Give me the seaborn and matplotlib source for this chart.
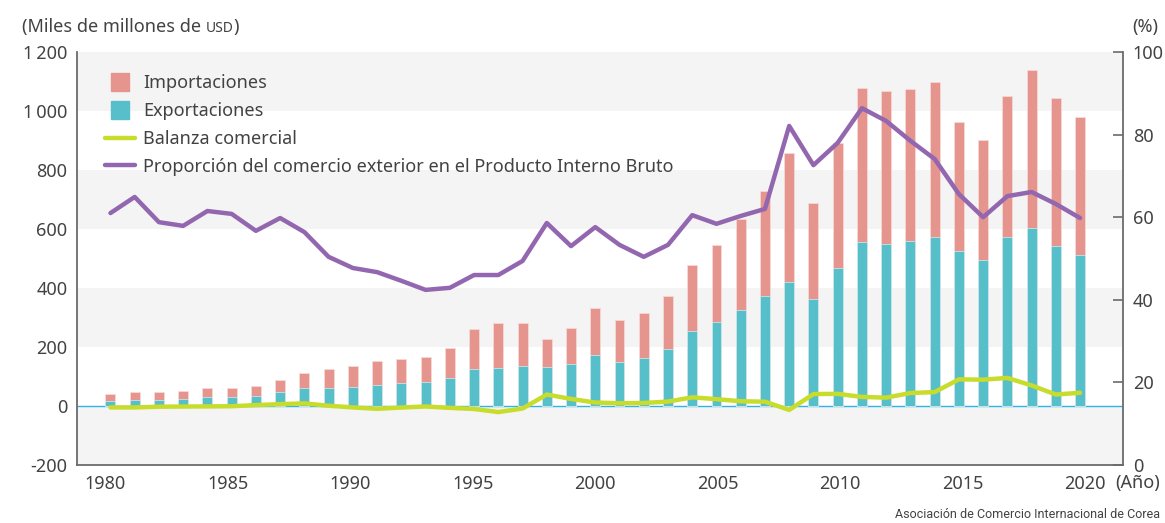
import numpy as np
import pandas as pd
import matplotlib
matplotlib.use("Agg")
import matplotlib.pyplot as plt
from matplotlib.lines import Line2D
import seaborn as sns

# ---------------- data ----------------
years = list(range(1980, 2021))
exports = [17.5, 21.3, 21.9, 24.4, 29.2, 30.3, 34.7, 47.3, 60.7, 62.4,
           65.0, 71.9, 76.6, 82.2, 96.0, 125.1, 129.7, 136.2, 132.3, 143.7,
           172.3, 150.4, 162.5, 193.8, 253.8, 284.4, 325.5, 371.5, 422.0, 363.5,
           466.4, 555.2, 547.9, 559.6, 572.7, 526.8, 495.4, 573.7, 604.9, 542.2,
           512.5]
imports = [22.3, 26.1, 24.3, 26.2, 30.6, 31.1, 31.6, 41.0, 51.8, 61.5,
           69.8, 81.5, 81.8, 83.8, 102.3, 135.1, 150.3, 144.6, 93.3, 119.8,
           160.5, 141.1, 152.1, 178.8, 224.5, 261.2, 309.4, 356.8, 435.3, 323.1,
           425.2, 524.4, 519.6, 515.6, 525.5, 436.5, 406.2, 478.5, 535.2, 503.3,
           467.6]
balance = [-4.8, -4.8, -2.4, -1.8, -1.4, -0.8, 3.1, 6.3, 8.9, 0.9,
           -4.8, -9.6, -5.2, -1.6, -6.3, -10.1, -20.6, -8.5, 39.0, 23.9,
           11.8, 9.3, 10.3, 15.0, 29.4, 23.2, 16.1, 14.6, -13.3, 40.4,
           41.2, 30.8, 28.3, 44.0, 47.2, 90.3, 89.2, 95.2, 69.7, 38.9,
           44.9]
trade_gdp = [61.0, 64.9, 58.8, 57.9, 61.5, 60.8, 56.7, 59.8, 56.4, 50.4,
             47.7, 46.7, 44.6, 42.4, 42.9, 46.0, 46.0, 49.4, 58.6, 53.0,
             57.6, 53.3, 50.4, 53.3, 60.5, 58.4, 60.3, 62.0, 82.1, 72.6,
             78.0, 86.4, 83.3, 78.5, 74.1, 65.6, 60.0, 65.1, 66.1, 63.2,
             59.8]

left_ticks = [-200, 0, 200, 400, 600, 800, 1000, 1200]
left_ticklabels = ["-200", "0", "200", "400", "600", "800", "1\u2009000", "1\u2009200"]
right_ticks = [0, 20, 40, 60, 80, 100]
x_major = [1980, 1985, 1990, 1995, 2000, 2005, 2010, 2015, 2020]

series_names = ["Importaciones", "Exportaciones", "Balanza comercial",
                "Proporción del comercio exterior en el Producto Interno Bruto"]
title_left = "(Miles de millones de "
title_unit = "USD"
title_right = "(%)"
x_unit = "(Año)"
source = "Asociación de Comercio Internacional de Corea"

# ---------------- style ----------------
c_imp = "#e5958e"
c_exp = "#57bfca"
c_bal = "#c8dc2b"
c_gdp = "#9367b0"
c_band = "#f4f4f4"
c_axis = "#6b6b6b"
c_text = "#424242"

sns.set_style("white")
plt.rcParams["font.family"] = ["Noto Sans", "DejaVu Sans"]
plt.rcParams["text.color"] = c_text
plt.rcParams["xtick.color"] = c_text
plt.rcParams["ytick.color"] = c_text

W, H = 1165, 523
fig = plt.figure(figsize=(W / 100, H / 100), dpi=100)
ax = fig.add_axes([77 / W, 1 - 465 / H, (1123 - 77) / W, (465 - 52) / H])

df = pd.DataFrame({"year": years, "exp": exports, "imp": imports,
                   "bal": balance, "gdp": trade_gdp})
df["total"] = df["exp"] + df["imp"]

# background bands
for lo in [-200, 200, 600, 1000]:
    ax.axhspan(lo, lo + 200, color=c_band, zorder=0, lw=0)
ax.axhline(0, color="#2fb4e6", lw=1.0, zorder=1)

sns.barplot(data=df, x="year", y="total", native_scale=True, width=0.41,
            color=c_imp, saturation=1, errorbar=None, ax=ax,
            edgecolor="#f7dcd9", linewidth=0.5, zorder=2)
sns.barplot(data=df, x="year", y="exp", native_scale=True, width=0.41,
            color=c_exp, saturation=1, errorbar=None, ax=ax,
            edgecolor="#d5f0f3", linewidth=0.5, zorder=3)
sns.lineplot(data=df, x="year", y="bal", color=c_bal, lw=3.2, ax=ax, zorder=4)

ax.set_ylim(-200, 1200)
ax.set_xlim(1978.62, 2021.77)
ax.set_xlabel("")
ax.set_ylabel("")

# tick positions (slightly rescaled around 2000 as in reference)
k = 24.5 / 24.24
ax.set_xticks([2000 + (t - 2000) * k for t in x_major])
ax.set_xticklabels([str(t) for t in x_major])
ax.set_xticks([2000 + (t - 2000) * k for t in years if t not in x_major], minor=True)
ax.tick_params(axis="x", which="major", direction="in", length=10, width=1.2,
               color=c_axis, labelsize=13, pad=7)
ax.tick_params(axis="x", which="minor", direction="in", length=7, width=1.2,
               color=c_axis)
ax.set_yticks(left_ticks)
ax.set_yticklabels(left_ticklabels)
ax.tick_params(axis="y", length=0, labelsize=13, pad=7)

for s in ["top", "right"]:
    ax.spines[s].set_visible(False)
for s in ["left", "bottom"]:
    ax.spines[s].set_color(c_axis)
    ax.spines[s].set_linewidth(1.3)

ax2 = ax.twinx()
sns.lineplot(data=df, x="year", y="gdp", color=c_gdp, lw=3.2, ax=ax2, zorder=5)
ax2.set_ylim(0, 100)
ax2.set_xlim(1978.62, 2021.77)
ax2.set_ylabel("")
ax2.set_yticks(right_ticks)
ax2.tick_params(axis="y", direction="in", length=7, width=1.2, color=c_axis,
                labelsize=13, pad=7)
for s in ["top", "left", "bottom"]:
    ax2.spines[s].set_visible(False)
ax2.spines["right"].set_color(c_axis)
ax2.spines["right"].set_linewidth(1.3)

handles = [
    Line2D([], [], marker="s", ms=13, color=c_imp, ls="none"),
    Line2D([], [], marker="s", ms=13, color=c_exp, ls="none"),
    Line2D([], [], color=c_bal, lw=3.2),
    Line2D([], [], color=c_gdp, lw=3.2),
]
leg = ax2.legend(handles, series_names, loc="upper left",
                 bbox_to_anchor=(105 / W, 1 - 74 / H),
                 bbox_transform=fig.transFigure, frameon=False,
                 fontsize=13, handlelength=1.65, handletextpad=0.45,
                 labelspacing=0.55, borderpad=0, borderaxespad=0)

# texts
t1 = fig.text(22 / W, 1 - 27 / H, title_left, fontsize=13, va="center", ha="left")
fig.canvas.draw()
bb = t1.get_window_extent()
t2 = fig.text(bb.x1 / W, 1 - 28 / H, title_unit, fontsize=10, va="center", ha="left")
fig.canvas.draw()
bb2 = t2.get_window_extent()
fig.text(bb2.x1 / W, 1 - 27 / H, ")", fontsize=13, va="center", ha="left")
fig.text(1145 / W, 1 - 27 / H, title_right, fontsize=13, va="center", ha="center")
fig.text(1138 / W, 1 - 483 / H, x_unit, fontsize=13, va="center", ha="center")
fig.text(1160 / W, 1 - 515 / H, source, fontsize=9.0, va="center", ha="right",
         family=["Roboto", "DejaVu Sans"])

fig.savefig("out.png", dpi=100)
